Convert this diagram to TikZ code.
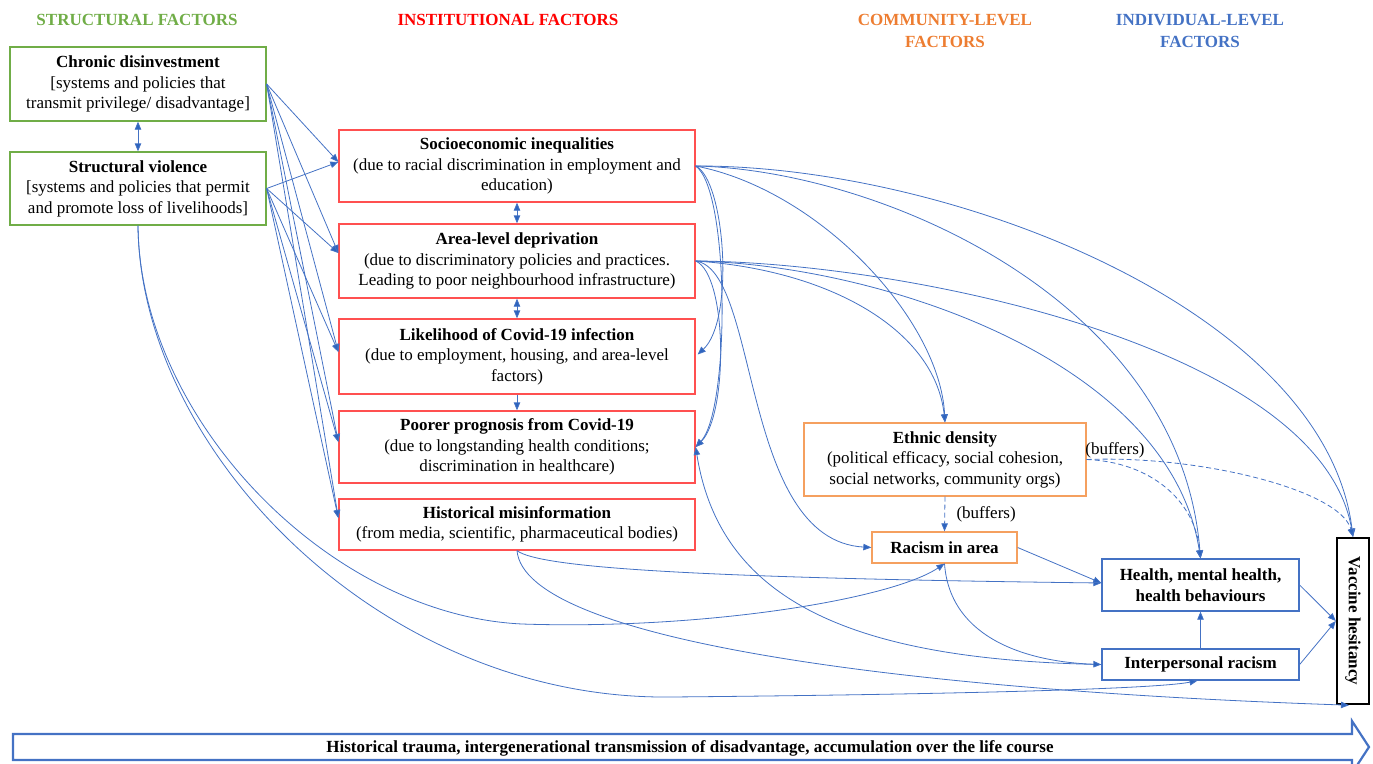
\documentclass[tikz,border=0pt]{standalone}
\usepackage{fontspec}
\setmainfont{Liberation Serif}
\usetikzlibrary{arrows.meta,calc}
\definecolor{cgreen}{RGB}{112,173,71}
\definecolor{cred}{RGB}{255,80,80}
\definecolor{chred}{RGB}{255,0,0}
\definecolor{corange}{RGB}{245,160,95}
\definecolor{chorange}{RGB}{237,125,49}
\definecolor{cblue}{RGB}{68,114,196}
\definecolor{carrow}{RGB}{45,100,190}
\begin{document}
\begin{tikzpicture}[x=1pt,y=-1pt,
  every node/.style={font=\fontsize{17}{20.5}\selectfont},
  box/.style={draw,line width=1.3pt,align=center,inner sep=0pt},
  gbox/.style={box,draw=cgreen},
  rbox/.style={box,draw=cred,minimum width=356pt},
  obox/.style={box,draw=corange},
  bbox/.style={box,draw=cblue,minimum width=197pt},
  hdr/.style={font=\fontsize{17}{22}\selectfont\bfseries,align=center},
  conn/.style={draw=cblue,line width=0.8pt,-{Triangle[length=8pt,width=6.5pt,fill=carrow]}},
  biconn/.style={draw=cblue,line width=0.8pt,{Triangle[length=8pt,width=6.5pt,fill=carrow]}-{Triangle[length=8pt,width=6.5pt,fill=carrow]}},
  dconn/.style={conn,dash pattern=on 5pt off 3pt},
]
\useasboundingbox (0,0) rectangle (1373,763);

% headers
\node[hdr,text=cgreen] (h1) at (137,20) {STRUCTURAL FACTORS};
\node[hdr,text=chred] (h2) at (508,20) {INSTITUTIONAL FACTORS};
\node[hdr,text=chorange] (h3) at (945,31) {COMMUNITY-LEVEL\\FACTORS};
\node[hdr,text=cblue] (h4) at (1200,31) {INDIVIDUAL-LEVEL\\FACTORS};

% structural
\node[gbox,minimum width=256pt,minimum height=74pt] (chronic) at (138,84)
  {\textbf{Chronic disinvestment}\\{}[systems and policies that\\transmit privilege/ disadvantage]};
\node[gbox,minimum width=256pt,minimum height=73pt] (structural) at (138,188.5)
  {\textbf{Structural violence}\\{}[systems and policies that permit\\and promote loss of livelihoods]};

% institutional
\node[rbox,minimum height=72pt] (socio) at (517,166)
  {\textbf{Socioeconomic inequalities}\\(due to racial discrimination in employment and\\education)};
\node[rbox,minimum height=74pt] (area) at (517,261)
  {\textbf{Area-level deprivation}\\(due to discriminatory policies and practices.\\Leading to poor neighbourhood infrastructure)};
\node[rbox,minimum height=75pt] (likely) at (517,356.5)
  {\textbf{Likelihood of Covid-19 infection}\\(due to employment, housing, and area-level\\factors)};
\node[rbox,minimum height=72pt] (poorer) at (517,447)
  {\textbf{Poorer prognosis from Covid-19}\\(due to longstanding health conditions;\\discrimination in healthcare)};
\node[rbox,minimum height=51pt] (misinfo) at (517,524.5)
  {\textbf{Historical misinformation}\\(from media, scientific, pharmaceutical bodies)};

% community
\node[obox,minimum width=282pt,minimum height=73pt] (ethnic) at (945,459.5)
  {\textbf{Ethnic density}\\(political efficacy, social cohesion,\\social networks, community orgs)};
\node[obox,minimum width=145pt,minimum height=31pt] (racism) at (944.5,547.5)
  {\textbf{Racism in area}};

% individual
\node[bbox,minimum height=52pt] (health) at (1200.5,585)
  {\textbf{Health, mental health,}\\\textbf{health behaviours}};
\node[bbox,minimum height=31pt] (interp) at (1200.5,664.5)
  {\textbf{Interpersonal racism}};
\node[draw=black,line width=2.4pt,minimum width=32pt,minimum height=166pt,inner sep=0pt] (vh) at (1353,621) {};
\node[rotate=-90,font=\fontsize{17}{20}\selectfont\bfseries] (vhtext) at (vh.center) {Vaccine hesitancy};

% labels
\node[anchor=west] (buf1) at (953,514) {(buffers)};
\node (buf2) at (1115,450) {(buffers)};

% structural -> institutional
\draw[biconn] (chronic.south) -- (structural.north);
\foreach \t/\dy in {socio/4,area/8,likely/4.5,poorer/5,misinfo/6.5}{
  \draw[conn] (chronic.east) -- ($(\t.west)+(0,-\dy)$);
  \draw[conn] (structural.east) -- ($(\t.west)+(0,-\dy)$);
}

% institutional chain
\draw[biconn] (socio.south) -- (area.north);
\draw[biconn] (area.south) -- (likely.north);
\draw[conn] (likely.south) -- (poorer.north);

% from socio / area
\draw[conn] (socio.east) .. controls (950,165) and (1325,310) .. (vh.north);
\draw[conn] (socio.east) .. controls (880,170) and (1180,300) .. (health.north);
\draw[conn] (area.east) .. controls (900,262) and (1320,345) .. (vh.north);
\draw[conn] (area.east) .. controls (880,265) and (1170,360) .. (health.north);
\draw[conn] (socio.east) .. controls (820,190) and (940,320) .. (ethnic.north);
\draw[conn] (area.east) .. controls (830,270) and (935,330) .. (ethnic.north);
\draw[conn] (socio.east) .. controls (725,180) and (735,320) .. ($(likely.east)+(2,-2)$);
\draw[conn] (socio.east) .. controls (730,190) and (730,410) .. (poorer.east);
\draw[conn] (area.east) .. controls (728,275) and (728,415) .. (poorer.east);
\draw[conn] (area.east) .. controls (760,270) and (740,540) .. (racism.west);

% community
\draw[dconn] (ethnic.south) -- (racism.north);
\draw[dconn] (ethnic.east) .. controls (1150,462) and (1195,500) .. (health.north);
\draw[dconn] (ethnic.east) .. controls (1200,455) and (1340,490) .. (vh.north);

% misinformation
\draw[conn] (misinfo.south) .. controls (540,568) and (700,578) .. ($(health.west)+(0,-2)$);
\draw[conn] (misinfo.south) .. controls (525,640) and (900,690) .. ($(vh.south)+(-4,0)$);

% structural violence long curves
\draw[conn] (structural.south) .. controls (140,420) and (330,615) .. (522,624)
  .. controls (700,630) and (890,600) .. (racism.south);
\draw[conn] (structural.south) .. controls (140,450) and (380,700) .. (670,697)
  .. controls (900,695) and (1150,690) .. ($(interp.south)+(-3,0)$);

% lower right
\draw[conn] (interp.west) .. controls (850,660) and (720,600) .. (poorer.east);
\draw[conn] (racism.south) .. controls (950,640) and (1030,662) .. (interp.west);
\draw[conn] (racism.east) -- ($(health.west)+(0,-2)$);
\draw[conn] (interp.north) -- (health.south);
\draw[conn] (health.east) -- (vh.west);
\draw[conn] (interp.east) -- (vh.west);

% bottom arrow
\draw[cblue,line width=2.2pt,line join=miter] (13,734) -- (1352,734) -- (1352,721) -- (1369,747) -- (1352,773) -- (1352,760) -- (13,760) -- cycle;
\node[font=\fontsize{17}{20}\selectfont\bfseries] (hist) at (690,748)
  {Historical trauma, intergenerational transmission of disadvantage, accumulation over the life course};
\end{tikzpicture}
\end{document}
